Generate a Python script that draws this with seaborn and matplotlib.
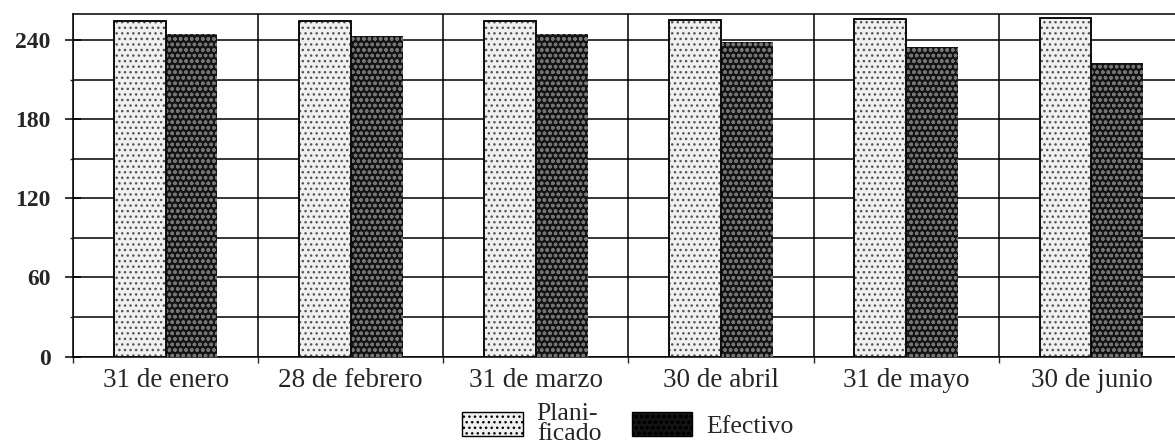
import matplotlib
matplotlib.use("Agg")
import matplotlib.pyplot as plt
import seaborn as sns
import pandas as pd
import numpy as np

categorias = ["31 de enero", "28 de febrero", "31 de marzo", "30 de abril", "31 de mayo", "30 de junio"]
planificado = [255, 255, 255, 255.5, 256, 257]
efectivo = [245, 243, 245, 239, 235, 223]
series = ["Planificado", "Efectivo"]
etiquetas_leyenda = ["Plani-\nficado", "Efectivo"]
yticks_major = [0, 60, 120, 180, 240]
yticks_minor = [30, 90, 150, 210]

sns.set_style("white")
plt.rcParams["font.family"] = ["Liberation Serif", "DejaVu Serif"]
plt.rcParams["hatch.linewidth"] = 1.0

df = pd.DataFrame({
    "fecha": categorias * 2,
    "valor": planificado + efectivo,
    "serie": [series[0]] * len(categorias) + [series[1]] * len(categorias),
})

fig = plt.figure(figsize=(11.75, 4.48), dpi=100)
ax = fig.add_axes([73 / 1175, (448 - 356.5) / 448, 1111 / 1175, 342.5 / 448])

sns.barplot(data=df, x="fecha", y="valor", hue="serie", order=categorias,
            hue_order=series, palette=["#f0f0f0", "#141414"], width=0.56, gap=0,
            saturation=1, edgecolor="black", linewidth=1.2, legend=False, ax=ax,
            zorder=3)

for p in ax.containers[0]:
    p.set_hatch("...")
    p.set_edgecolor("#555555")
    p.set_linewidth(1.2)
for p in ax.containers[1]:
    p.set_hatch("ooo")
    p.set_edgecolor("#757575")
    p.set_linewidth(0)

# black outline for planificado bars
for p in ax.containers[0]:
    x0, y0 = p.get_xy()
    ax.add_patch(plt.Rectangle((x0, y0), p.get_width(), p.get_height(), fill=False,
                               edgecolor="black", linewidth=1.2, zorder=4))

ax.set_xlim(-0.5, 5.5)
ax.set_ylim(0, 260)
ax.set_xlabel("")
ax.set_ylabel("")

ax.set_yticks(yticks_major)
ax.set_yticks(yticks_minor, minor=True)
ax.set_xticks(range(len(categorias)))
ax.set_xticklabels(categorias, fontsize=19.5)
ax.set_xticks(np.arange(-0.5, len(categorias), 1.0), minor=True)
ax.set_yticklabels([str(v) for v in yticks_major], fontsize=17, fontweight="bold")

ax.tick_params(axis="y", which="major", direction="inout", length=12, width=1.1,
               pad=10, color="black", left=True)
ax.tick_params(axis="y", which="minor", direction="out", length=2.5, width=1.0, left=True)
ax.tick_params(axis="x", which="major", length=0, pad=8)
ax.tick_params(axis="x", which="minor", direction="out", length=4, width=1.0, bottom=True)

ax.set_axisbelow(True)
ax.grid(True, which="both", axis="y", color="black", linewidth=1.1)
ax.grid(True, which="minor", axis="x", color="black", linewidth=1.1)
ax.grid(False, which="major", axis="x")

for s in ax.spines.values():
    s.set_color("black")
    s.set_linewidth(1.1)
    s.set_visible(True)

leg = ax.legend(handles=ax.containers, labels=etiquetas_leyenda, ncol=2, loc="center",
                bbox_to_anchor=(0.4996, -0.198), frameon=False, fontsize=18.5,
                handlelength=2.35, handleheight=1.05, handletextpad=0.55,
                columnspacing=1.2, borderpad=0, borderaxespad=0)
leg.get_texts()[0].set_linespacing(0.88)
for h in leg.legend_handles:
    h.set_edgecolor("black")
    h.set_linewidth(1.0)

fig.savefig("out.png", dpi=100)
